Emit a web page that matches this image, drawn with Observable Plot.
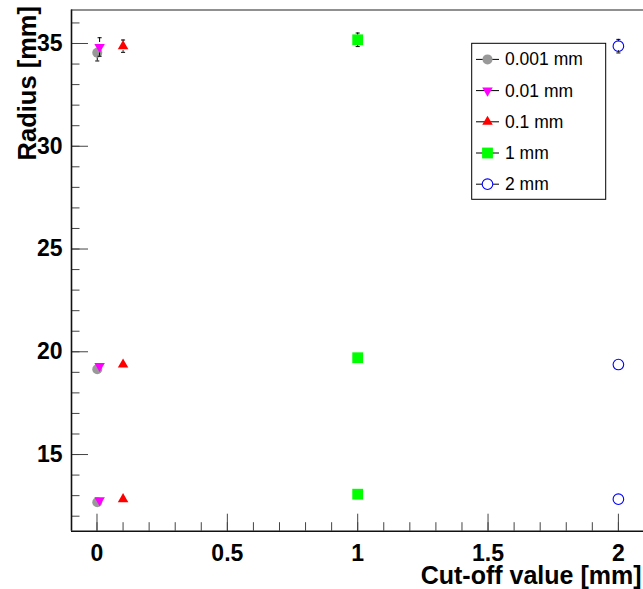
<!DOCTYPE html>
<html>
<head>
<meta charset="utf-8">
<script src="https://cdn.jsdelivr.net/npm/d3@7"></script>
<script src="https://cdn.jsdelivr.net/npm/@observablehq/plot@0.6"></script>
<style>
  html, body { margin: 0; padding: 0; background: #fff; }
  #chart { width: 643px; height: 589px; }
</style>
</head>
<body>
<div id="chart"></div>
<script>
// ---- data ----
const seriesNames = ["0.001 mm", "0.01 mm", "0.1 mm", "1 mm", "2 mm"];
const cutValues = [0.001, 0.01, 0.1, 1, 2];
const radius0001 = [34.55, 19.15, 12.68];
const radius001 = [34.83, 19.31, 12.78];
const radius01 = [34.87, 19.38, 12.83];
const radius1 = [35.18, 19.71, 13.07];
const radius2 = [34.87, 19.38, 12.83];
const err0001 = [0.40, 0.12, 0.10];
const err001 = [0.45, 0.12, 0.10];
const err01 = [0.30, 0.10, 0.10];
const err1 = [0.33, 0.10, 0.10];
const err2 = [0.33, 0.10, 0.10];
const xMajorTicks = [0, 0.5, 1, 1.5, 2];
const xMinorTicks = d3.range(0, 21).map(i => i / 10);
const yMajorTicks = [15, 20, 25, 30, 35];
const yMinorTicks = d3.range(12, 37);
const xDomain = [-0.0978, 2.0963];
const yDomain = [11.27, 36.63];

// ---- symbols ----
const sqrt3 = Math.sqrt(3);
const triangleDown = {
  draw(context, size) {
    const y = Math.sqrt(size / (sqrt3 * 3));
    context.moveTo(0, y * 2);
    context.lineTo(-sqrt3 * y, -y);
    context.lineTo(sqrt3 * y, -y);
    context.closePath();
  }
};
const capSymbol = {
  draw(context, size) {
    const w = Math.sqrt(size);
    context.moveTo(-w / 2, 0);
    context.lineTo(w / 2, 0);
  }
};

const styles = [
  {symbol: "circle", r: 5, fill: "#999999", stroke: "none"},
  {symbol: triangleDown, r: 3.9, fill: "#ff00ff", stroke: "none"},
  {symbol: "triangle", r: 3.9, fill: "#ff0000", stroke: "none"},
  {symbol: "square", r: 6.1, fill: "#00ff00", stroke: "none"},
  {symbol: "circle", r: 5.3, fill: "none", stroke: "#0000ff"}
];

const radiusSeries = [radius0001, radius001, radius01, radius1, radius2];
const errSeries = [err0001, err001, err01, err1, err2];
const rows = seriesNames.map((name, i) =>
  radiusSeries[i].map((y, j) => ({series: name, x: cutValues[i], y, e: errSeries[i][j]}))
);

const FONT = "'Liberation Sans', Arial, Helvetica, sans-serif";
const width = 643, height = 589;
const marginLeft = 71, marginRight = 0, marginTop = 9.5, marginBottom = 58.3;
const innerW = width - marginLeft - marginRight;
const innerH = height - marginTop - marginBottom;
const pxPerY = innerH / (yDomain[1] - yDomain[0]);
const gap = 4.5; // error bars leave a gap around the marker (ROOT style)

const marks = [
  // tick marks (inward)
  Plot.ruleX(xMinorTicks, {x: d => d, insetTop: innerH - 8.5, stroke: "#444", strokeWidth: 1}),
  Plot.ruleX(xMajorTicks, {x: d => d, insetTop: innerH - 17, stroke: "#444", strokeWidth: 1}),
  Plot.ruleY(yMinorTicks, {y: d => d, insetRight: innerW - 8.5, stroke: "#444", strokeWidth: 1}),
  Plot.ruleY(yMajorTicks, {y: d => d, insetRight: innerW - 17, stroke: "#444", strokeWidth: 1}),
  // frame lines
  Plot.ruleX([xDomain[0]], {x: d => d, stroke: "#111", strokeWidth: 1.6}),
  Plot.ruleY([yDomain[0]], {y: d => d, stroke: "#111", strokeWidth: 1.6}),
  Plot.ruleY([yDomain[1]], {y: d => d, stroke: "#222", strokeWidth: 1.2}),
  // axes labels
  Plot.axisX(xMajorTicks, {tickSize: 0, tickPadding: 13, tickFormat: d => String(d), fontSize: 23, fontWeight: "bold", fontFamily: FONT, fill: "#000", label: null}),
  Plot.axisY(yMajorTicks, {tickSize: 0, tickPadding: 9, tickFormat: d => String(d), fontSize: 23, fontWeight: "bold", fontFamily: FONT, fill: "#000", label: null}),
  Plot.text(["Cut-off value [mm]"], {frameAnchor: "bottom-right", text: d => d, textAnchor: "end", lineAnchor: "middle", dx: -2, dy: 45, fontSize: 25, fontWeight: "bold", fontFamily: FONT, fill: "#000"}),
  Plot.text(["Radius [mm]"], {frameAnchor: "top-left", text: d => d, textAnchor: "end", lineAnchor: "middle", rotate: -90, dx: -44, dy: -4, fontSize: 25.5, fontWeight: "bold", fontFamily: FONT, fill: "#000"})
];

rows.forEach((data, i) => {
  const s = styles[i];
  const visible = data.filter(d => d.e * pxPerY > gap + 0.5);
  marks.push(
    Plot.ruleX(visible, {x: "x", y1: d => d.y + d.e, y2: "y", insetBottom: gap, stroke: "#000", strokeWidth: 1}),
    Plot.ruleX(visible, {x: "x", y1: "y", y2: d => d.y - d.e, insetTop: gap, stroke: "#000", strokeWidth: 1}),
    Plot.dot(visible, {x: "x", y: d => d.y + d.e, symbol: capSymbol, r: 2.3, stroke: "#000", fill: "none", strokeWidth: 1}),
    Plot.dot(visible, {x: "x", y: d => d.y - d.e, symbol: capSymbol, r: 2.3, stroke: "#000", fill: "none", strokeWidth: 1}),
    Plot.dot(data, {x: "x", y: "y", symbol: s.symbol, r: s.r, fill: s.fill, stroke: s.stroke, strokeWidth: 1.1})
  );
});

const chart = Plot.plot({
  width, height, marginLeft, marginRight, marginTop, marginBottom,
  style: {fontFamily: FONT, background: "#fff", overflow: "visible"},
  x: {type: "linear", domain: xDomain, axis: null},
  y: {type: "linear", domain: yDomain, axis: null},
  marks
});

// ---- legend (ROOT-style box) ----
const svg = d3.select(chart);
const lg = svg.append("g").attr("font-family", FONT).attr("text-anchor", "start");
const box = {x0: 471.7, y0: 43.3, x1: 605.7, y1: 199.3};
lg.append("rect")
  .attr("x", box.x0).attr("y", box.y0)
  .attr("width", box.x1 - box.x0).attr("height", box.y1 - box.y0)
  .attr("fill", "#fff").attr("stroke", "#000").attr("stroke-width", 1);
const step = (box.y1 - box.y0) / seriesNames.length;
seriesNames.forEach((name, i) => {
  const s = styles[i];
  const cy = box.y0 + step * (i + 0.5) + 0.5;
  lg.append("line").attr("x1", 476).attr("x2", 499).attr("y1", cy).attr("y2", cy)
    .attr("stroke", "#000").attr("stroke-width", 1);
  const size = Math.PI * s.r * s.r;
  const type = typeof s.symbol === "string"
    ? {circle: d3.symbolCircle, triangle: d3.symbolTriangle, square: d3.symbolSquare}[s.symbol]
    : s.symbol;
  lg.append("path")
    .attr("transform", `translate(487.5,${cy})`)
    .attr("d", d3.symbol(type, size)())
    .attr("fill", s.fill === "none" ? "#fff" : s.fill)
    .attr("stroke", s.stroke)
    .attr("stroke-width", 1.1);
  lg.append("text").attr("x", 505).attr("y", cy + 6)
    .attr("text-anchor", "start")
    .attr("font-size", 17.5).attr("fill", "#000").text(name);
});

document.getElementById("chart").appendChild(chart);
</script>
</body>
</html>
